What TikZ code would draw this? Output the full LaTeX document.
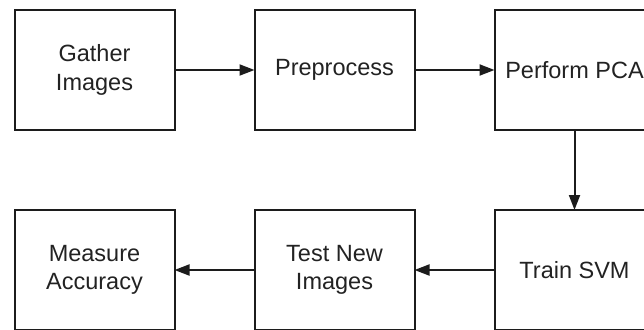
\documentclass[tikz,border=0pt]{standalone}
\usepackage{fontspec}
\setmainfont{Liberation Sans}
\usetikzlibrary{positioning,arrows.meta}

\definecolor{linegray}{HTML}{1C1C1C}
\definecolor{textgray}{HTML}{222222}

\begin{document}
\begin{tikzpicture}[
    stepbox/.style={draw=linegray, line width=2pt, minimum width=160pt, minimum height=120pt,
        align=center, text=textgray, font=\fontsize{23.5}{28.5}\selectfont, inner sep=0pt, outer sep=0pt},
    flow/.style={draw=linegray, line width=2pt, -{Triangle[length=15pt,width=11pt]}},
    node distance=80pt
]
            \useasboundingbox (0,0) rectangle (644pt,-329pt);
            \clip (0,0) rectangle (644pt,-329pt);
            % top row
            \node[stepbox] (gather) at (94.5pt,-70pt) {Gather\\Images};
            \node[stepbox, right=of gather] (prep) {Preprocess};
            \node[stepbox, right=of prep] (pca) {Perform PCA};
            % bottom row
            \node[stepbox, below=of pca] (svm) {Train SVM};
            \node[stepbox, left=of svm] (test) {Test New\\Images};
            \node[stepbox, left=of test] (acc) {Measure\\Accuracy};
            % arrows
            \draw[flow] (gather) -- (prep);
            \draw[flow] (prep) -- (pca);
            \draw[flow] (pca) -- (svm);
            \draw[flow] (svm) -- (test);
            \draw[flow] (test) -- (acc);
        \end{tikzpicture}
\end{document}
